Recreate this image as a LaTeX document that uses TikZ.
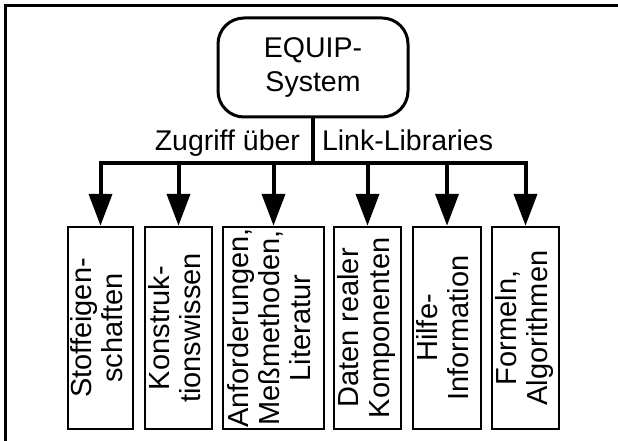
\documentclass[tikz,border=0pt]{standalone}
\usepackage{fontspec}
\setmainfont{Liberation Sans}
\usepackage{graphicx}
\usetikzlibrary{arrows.meta,positioning}
\tikzset{
  >={Triangle[length=32pt,width=23pt]},
  sysbox/.style={draw, line width=3pt, rounded corners=26pt, minimum width=190pt,
    minimum height=99pt, align=center, font=\fontsize{28.5}{34}\selectfont},
  libbox/.style={draw, line width=2.5pt, minimum width=67pt, minimum height=202pt,
    inner sep=0pt, font=\fontsize{29}{31}\selectfont},
  conn/.style={line width=4pt},
  lbl/.style={inner sep=0pt, font=\fontsize{28.5}{34}\selectfont},
}
\newcommand{\vlabel}[1]{\rotatebox{90}{\begin{tabular}{@{}c@{}}#1\end{tabular}}}

\begin{document}
\begin{tikzpicture}[x=1pt, y=-1pt, node distance=9pt]
  \useasboundingbox (0,0) rectangle (618,441);
  % frame
  \draw[line width=2.2pt] (5.5,450) -- (5.5,5.5) -- (630,5.5);

  \node[sysbox] (equip) at (313,67.5) {EQUIP-\\System};

  % libraries
  \node[libbox, minimum width=65pt] (stoff) at (100.5,328) {\vlabel{Stoffeigen-\\schaften}};
  \node[libbox, right=9.5pt of stoff] (konstr) {\vlabel{Konstruk-\\tionswissen}};
  \node[libbox, minimum width=101pt, right=8.5pt of konstr] (anford) {\vlabel{Anforderungen,\\Meßmethoden,\\Literatur}};
  \node[libbox, right=7.5pt of anford] (daten) {\vlabel{Daten realer\\Komponenten}};
  \node[libbox, minimum width=68pt, right=9.5pt of daten] (hilfe) {\vlabel{Hilfe-\\Information}};
  \node[libbox, right=8.5pt of hilfe] (formeln) {\vlabel{Formeln,\\Algorithmen}};

  \coordinate (bar) at (313,163);
  \draw[conn] (equip.south) --
    node[lbl, pos=.72, anchor=base east, xshift=-11pt] {Zugriff über}
    node[lbl, pos=.72, anchor=base west, xshift=7pt] {Link-Libraries}
    (equip.south |- bar);
  \draw[conn, line cap=rect] (bar -| stoff) -- (bar -| formeln);
  \foreach \n in {stoff,konstr,anford,daten,hilfe,formeln}
    \draw[conn,->] (bar -| \n) -- (\n.north);
\end{tikzpicture}
\end{document}
